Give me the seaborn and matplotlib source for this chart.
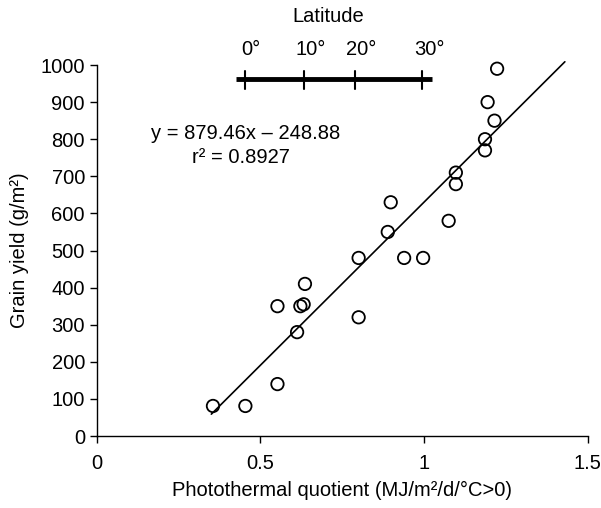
import matplotlib
matplotlib.use("Agg")
import matplotlib.pyplot as plt
import seaborn as sns
import numpy as np
import pandas as pd

quotient = [0.355, 0.454, 0.552, 0.552, 0.612, 0.622, 0.632, 0.636, 0.80, 0.80,
            0.889, 0.898, 0.939, 0.997, 1.075, 1.097, 1.097, 1.186, 1.186, 1.194,
            1.215, 1.223]
grain_yield = [81, 81, 140, 350, 280, 350, 355, 410, 480, 320,
               550, 630, 480, 480, 580, 710, 679, 800, 770, 900,
               850, 990]
slope = 879.46
intercept = -248.88
r2 = 0.8927
fit_x = [0.35, 1.43]
lat_labels = ["0°", "10°", "20°", "30°"]
lat_pos = [0.452, 0.633, 0.789, 0.995]

sns.set_style("ticks")
plt.rcParams['font.family'] = ['Liberation Sans', 'DejaVu Sans']
plt.rcParams['text.color'] = 'black'
plt.rcParams['axes.labelcolor'] = 'black'
plt.rcParams['xtick.color'] = 'black'
plt.rcParams['ytick.color'] = 'black'
FS = 14.5

fig = plt.figure(figsize=(6.01, 5.08), dpi=100)
ax = fig.add_axes([0.161, 0.1417, 0.817, 0.7303])

df = pd.DataFrame({"q": quotient, "y": grain_yield})
sns.scatterplot(data=df, x="q", y="y", ax=ax, s=80, facecolor="none",
                edgecolor="black", linewidth=1.3, zorder=3, clip_on=False)
fx = np.array(fit_x)
ax.plot(fx, slope * fx + intercept, color="black", lw=1.2, zorder=2, clip_on=False)

ax.set_xlim(0, 1.5)
ax.set_ylim(0, 1000)
ax.set_xticks([0, 0.5, 1, 1.5])
ax.set_xticklabels(["0", "0.5", "1", "1.5"])
ax.set_yticks(range(0, 1001, 100))
ax.tick_params(labelsize=FS, length=5, width=1, colors="black", direction="out")
ax.tick_params(axis="x", pad=8)
for s in ["left", "bottom"]:
    ax.spines[s].set_color("black")
    ax.spines[s].set_linewidth(1)
sns.despine(ax=ax)
ax.set_xlabel("Photothermal quotient (MJ/m²/d/°C>0)", fontsize=FS, labelpad=6)
ax.set_ylabel("Grain yield (g/m²)", fontsize=FS, labelpad=8)

ax.text(0.165, 815, f"y = {slope}x – {abs(intercept)}", fontsize=FS, ha="left", va="center")
ax.text(0.29, 750, f"r² = {r2}", fontsize=FS, ha="left", va="center")

# latitude bar
bar_y = 961
ax.plot([0.425, 1.023], [bar_y, bar_y], color="black", lw=3.5, clip_on=False, solid_capstyle="butt")
for p, lab in zip(lat_pos, lat_labels):
    ax.plot([p, p], [bar_y - 25, bar_y + 23], color="black", lw=1.5, clip_on=False)
    ax.text(p + 0.02, 1042, lab, fontsize=FS, ha="center", va="center", clip_on=False)
ax.text(0.708, 1132, "Latitude", fontsize=FS, ha="center", va="center", clip_on=False)

fig.savefig("out.png", dpi=100)
